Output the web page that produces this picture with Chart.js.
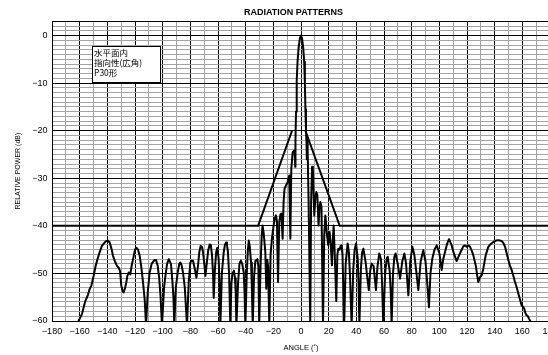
<!DOCTYPE html>
<html>
<head>
<meta charset="utf-8">
<script src="https://cdn.jsdelivr.net/npm/chart.js@4.4.1/dist/chart.umd.min.js"></script>
<style>
  html, body { margin: 0; padding: 0; background: #fff; overflow: hidden; }
  #wrap { width: 587px; height: 355px; }
</style>
</head>
<body>
<div id="wrap"><canvas id="c" width="587" height="355"></canvas></div>
<script>
// ---- text ----
const chartTitle = 'RADIATION PATTERNS';
const xAxisTitle = 'ANGLE (˚)';
const yAxisTitle = 'RELATIVE POWER (dB)';
const noteLines = ['水平面内', '指向性(広角)', 'P30形'];

// ---- axis ranges and tick spacing ----
const angleRange = [-180, 180];
const levelRange = [-60, 3];
const angleStep = 10;      // grid step, labels every 2 steps
const levelStep = 1;       // grid step, labels every 10 steps

// ---- measured horizontal pattern: [angle (deg), relative power (dB)] ----
const patternTrace = [
  [-161.5,-60.5],[-160,-59.5],[-158.3,-58.5],[-157,-57],[-155.9,-55.8],[-154,-54.5],[-152.8,-53.3],
  [-151.5,-52.5],[-149.9,-50.5],[-148.5,-48.5],[-147.5,-47.4],[-145.5,-45.5],[-143.9,-44.2],[-142,-43.5],
  [-140.7,-43.2],[-139.5,-43.1],[-138.3,-43.5],[-137,-44.8],[-135.9,-46.3],[-134.5,-47.5],[-133,-48.4],
  [-131.8,-48.8],[-130.8,-49.5],[-129.9,-52.6],[-128.8,-53.8],[-128.2,-54],[-127.3,-53.2],[-126.3,-51.9],
  [-125.5,-50.5],[-124.6,-49.8],[-123.4,-50.2],[-122.5,-48.5],[-121.4,-47],[-120,-45],[-119,-44.6],
  [-117.8,-45],[-116.6,-46.3],[-115.5,-48.5],[-114.2,-51.9],[-113,-55.5],[-112,-61],
  [-110.8,-54],[-109.4,-49.8],[-108,-48],[-106,-47.2],[-104.8,-47.2],[-103.6,-48.4],[-102.5,-51],[-101.5,-55],[-100.5,-61],
  [-99,-53],[-98,-50.5],[-96.8,-48],[-95.6,-47],[-94,-48],[-93,-51.5],[-92.2,-55],[-91.6,-61],
  [-90.5,-53],[-89.1,-49.8],[-88,-48],[-87.2,-47.7],[-86.3,-48.3],[-85.3,-49.8],[-84,-53],[-82.4,-61],
  [-81.2,-52],[-80,-47.7],[-79,-47.3],[-78,-47.4],[-76.8,-49],[-75.6,-50.9],[-74.5,-48.5],[-73.5,-45.5],
  [-72.5,-44.2],[-71.5,-44.5],[-70.8,-45.6],[-69.9,-48],[-69.1,-50.5],[-68,-47.5],[-67,-45],[-66,-43.9],
  [-65.2,-44],[-64.3,-46.3],[-63.6,-50],[-63.1,-55.1],[-62.2,-49],[-61.3,-45.5],[-60.5,-44.6],[-59.5,-47],
  [-58.9,-52],[-58.3,-61],
  [-57.2,-50],[-55.9,-45.6],[-55,-44],[-54.2,-43.5],[-53.5,-44],[-52.8,-45.6],[-52,-50],[-51.1,-61],
  [-50.3,-52],[-49.5,-50],[-48.5,-49.4],[-47.7,-51],[-47.2,-54],[-46.7,-61],
  [-45.5,-52],[-44.5,-48],[-43.5,-47.3],[-42.5,-48],[-41.4,-49.8],[-40.8,-54],[-40.2,-61],
  [-39.2,-50],[-38.4,-45],[-37.7,-43.1],[-37,-44.5],[-36.1,-47.7],[-35.5,-53],[-34.9,-61],
  [-34,-51],[-33,-47.4],[-32.2,-47.2],[-31.5,-47],[-30.8,-48.5],[-30.2,-61],
  [-29.2,-48],[-28.4,-42],[-27.8,-39.9],[-27,-41.5],[-25.8,-45.5],[-25.1,-53.2],[-24.4,-47.1],[-23.8,-48.5],[-22.9,-61],
  [-22,-46],[-21,-42.7],[-19.8,-39.9],[-18.8,-38.3],[-18.1,-37.8],[-17.4,-39],[-16.6,-51.8],[-15.7,-39.2],
  [-14.9,-37.6],[-14.2,-37.4],[-13.3,-42.7],[-12.6,-35],[-11.9,-32.2],[-11,-31.6],[-9.7,-30.8],[-8.5,-29.4],
  [-7.7,-42.7],[-7,-28],[-6,-24.5],[-4.6,-24.1],[-4.2,-27.6],[-4,-22],[-3.6,-16],[-3.1,-9.5],[-2.5,-5.5],
  [-1.7,-2.5],[-0.8,-0.6],[0,0],
  [0.8,-0.7],[1.6,-2.6],[2.3,-5.5],[2.8,-10],[3.2,-15.5],[3.6,-20],[4.0,-22.5],[4.2,-26],[4.4,-21.5],
  [4.8,-24],[5.5,-35],[6.7,-61],
  [7.3,-35],[8,-27.6],[8.6,-28.2],[9.6,-37.8],[10.4,-34],[11.1,-32.9],[11.8,-33.5],[12.7,-39.9],[13.3,-36.5],
  [14,-35],[14.8,-36],[15.9,-61],
  [16.8,-42],[17.6,-37.8],[18.8,-41.9],[19.6,-44],[20.7,-41.3],[21.5,-44],[22.4,-48.3],[23,-43],[23.6,-39.9],
  [24.4,-46],[25.5,-55.8],[26.3,-46],[27,-44.8],[27.9,-45],[28.7,-44.2],[29.4,-44.1],[30,-46],[31.2,-61],
  [32.3,-48],[33.7,-43.7],[34.6,-45.5],[35.4,-50.4],[36.6,-61],
  [37.8,-49],[38.8,-45],[39.8,-43.7],[41,-46.9],[41.6,-52],[42.2,-61],
  [43.3,-49],[44.2,-45.5],[45.1,-44.8],[46.7,-47.6],[47.8,-50.5],[49,-53.5],[50,-49.5],[51.1,-47.9],
  [52.5,-48.5],[54.2,-53.5],[55.3,-48.5],[56.6,-45.8],[57.8,-47],[58.6,-52],[59.5,-61],
  [60.8,-50],[62,-46.8],[62.7,-46.5],[64.1,-49.5],[64.9,-54],[65.5,-61],
  [66.5,-50],[67.5,-46.5],[68.4,-45.8],[69.8,-47.8],[71.6,-51.1],[73.2,-47.5],[74.7,-45.8],[75.9,-47.8],
  [77.6,-54.6],[79,-47.5],[80.5,-44.4],[81.9,-46],[83.5,-50],[84.8,-53.5],[86.5,-47.5],[88.4,-45.1],
  [90,-47.5],[91.5,-53],[92.5,-57.1],[93.6,-50],[94.9,-46.9],[96.5,-45],[98.1,-44.1],[100,-45.7],
  [101.7,-49.3],[102.8,-47],[104.1,-45.5],[105.6,-43.8],[107,-42.8],[108.8,-44],[110.5,-45.8],[112.5,-47.4],
  [114.6,-46],[117.3,-44.3],[118.5,-44.1],[119.8,-44.4],[121,-44.1],[122.2,-44.4],[123.4,-45.2],[124.6,-46.2],
  [126.5,-48.6],[127.4,-50.5],[128.2,-51.8],[129.3,-50.8],[130.6,-50.4],[131.8,-49],[133.5,-46.2],[135.4,-44.4],
  [137.2,-43.8],[139,-43.4],[141,-43.1],[142.7,-43],[145.1,-43.2],[146.3,-43.6],[147.5,-44.4],[148.7,-45.8],
  [149.9,-47.2],[151,-48.3],[152.3,-49.3],[153.5,-50.5],[154.7,-51.8],[156,-53],[157.1,-54.2],[158.3,-55.5],
  [159.5,-56.7],[160.5,-57],[161.4,-57.4],[162.2,-58.3],[163.1,-58.8],[164,-59],[164.8,-59.5],[165.7,-60],
  [166.5,-60.5]
];

// ---- side-lobe limit template (two branches) ----
const maskLeft = [[-180,-40],[-31,-40],[-6.5,-20]];
const maskRight = [[3.2,-20],[28,-40],[180,-40]];

const toXY = pts => pts.map(([x, y]) => ({ x, y }));
const signed = v => (v < 0 ? '\u2212' + Math.abs(v) : String(v));

// boxed annotation, corners given in axis units
const noteBoxPlugin = {
  id: 'noteBox',
  afterDatasetsDraw(chart, args, opts) {
    const { ctx, scales: { x, y } } = chart;
    const left = Math.round(x.getPixelForValue(opts.from[0])) + 0.5;
    const top = Math.round(y.getPixelForValue(opts.from[1])) + 0.5;
    const right = Math.round(x.getPixelForValue(opts.to[0])) + 0.5;
    const bottom = Math.round(y.getPixelForValue(opts.to[1])) + 0.5;
    ctx.save();
    ctx.fillStyle = '#fff';
    ctx.fillRect(left, top, right - left, bottom - top);
    ctx.strokeStyle = '#000';
    ctx.lineWidth = 1;
    ctx.strokeRect(left, top, right - left, bottom - top);
    ctx.fillStyle = '#000';
    ctx.font = opts.font;
    ctx.textBaseline = 'middle';
    ctx.textAlign = 'left';
    opts.lines.forEach((t, i) => ctx.fillText(t, left + 1.5, top + 6 + i * opts.lineGap));
    ctx.restore();
  }
};

const minorGrid = '#a3a3a3';

new Chart(document.getElementById('c'), {
  type: 'scatter',
  data: {
    datasets: [
      {
        data: toXY(patternTrace),
        showLine: true, borderColor: '#000', borderWidth: 2,
        pointRadius: 0, borderJoinStyle: 'round', tension: 0
      },
      {
        data: toXY(maskLeft),
        showLine: true, borderColor: '#000', borderWidth: 2, pointRadius: 0
      },
      {
        data: toXY(maskRight),
        showLine: true, borderColor: '#000', borderWidth: 2, pointRadius: 0
      }
    ]
  },
  options: {
    responsive: false,
    animation: false,
    devicePixelRatio: 1,
    layout: { padding: 0 },
    plugins: {
      legend: { display: false },
      tooltip: { enabled: false },
      title: {
        display: true,
        text: chartTitle,
        color: '#000',
        font: { family: "'Liberation Sans', Arial, sans-serif", size: 9, weight: 'bold' },
        padding: { top: 7, bottom: 3.5 }
      },
      noteBox: {
        from: [-151, -2.2],
        to: [-102.2, -9.7],
        lines: noteLines,
        lineGap: 10,
        font: "8.5px 'Noto Sans CJK JP', sans-serif"
      }
    },
    scales: {
      x: {
        type: 'linear',
        min: angleRange[0], max: angleRange[1],
        afterFit: s => { s.height = 34; },
        border: { display: true, color: '#000', width: 1 },
        grid: {
          drawTicks: false,
          lineWidth: 1,
          color: c => (c.tick && c.tick.value % (angleStep * 2) === 0 ? '#000' : minorGrid)
        },
        ticks: {
          stepSize: angleStep,
          autoSkip: false, maxRotation: 0, padding: 5,
          color: '#000',
          font: { family: "'Liberation Sans', Arial, sans-serif", size: 9 },
          callback: v => (v % (angleStep * 2) === 0 ? signed(v) : '')
        },
        title: {
          display: true, text: xAxisTitle, color: '#000',
          font: { family: "'Liberation Sans', Arial, sans-serif", size: 7.5 },
          padding: { top: 0, bottom: 2.5 }
        }
      },
      y: {
        type: 'linear',
        min: levelRange[0], max: levelRange[1],
        afterFit: s => { s.width = 52; },
        border: { display: true, color: '#000', width: 1 },
        grid: {
          drawTicks: false,
          lineWidth: 1,
          color: c => {
            if (!c.tick) return minorGrid;
            const v = c.tick.value;
            return v % 10 === 0 || v === levelRange[1] ? '#000' : minorGrid;
          }
        },
        ticks: {
          stepSize: levelStep,
          autoSkip: false, padding: 4.5,
          color: '#000',
          font: { family: "'Liberation Sans', Arial, sans-serif", size: 9 },
          callback: v => (v % 10 === 0 && v <= 0 ? signed(v) : '')
        },
        title: {
          display: true, text: yAxisTitle, color: '#000',
          font: { family: "'Liberation Sans', Arial, sans-serif", size: 7 },
          padding: { top: 13.5, bottom: 0 }
        }
      },
      yRight: {
        type: 'linear',
        position: 'right',
        min: levelRange[0], max: levelRange[1],
        afterFit: s => { s.width = 37; },
        border: { display: false },
        grid: { display: false, drawOnChartArea: false, drawTicks: false },
        ticks: { display: false }
      }
    }
  },
  plugins: [noteBoxPlugin]
});
</script>
</body>
</html>
